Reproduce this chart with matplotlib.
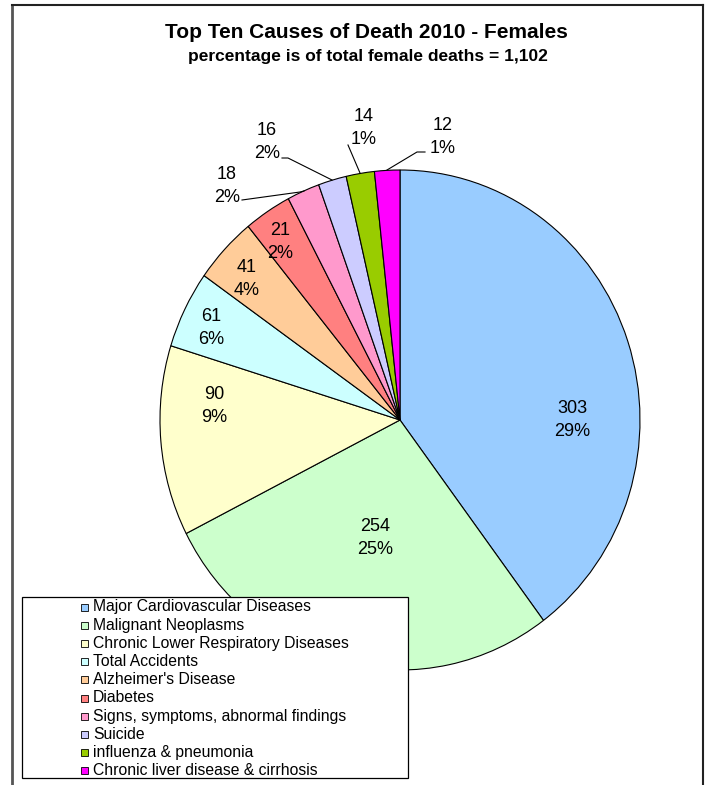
import matplotlib
matplotlib.use("Agg")
import matplotlib.pyplot as plt
from matplotlib.patches import Rectangle
from matplotlib.lines import Line2D

plt.rcParams['font.family'] = ['Liberation Sans', 'DejaVu Sans']

# ---- data ----
categories = ["Major Cardiovascular Diseases", "Malignant Neoplasms",
              "Chronic Lower Respiratory Diseases", "Total Accidents",
              "Alzheimer's Disease", "Diabetes",
              "Signs, symptoms, abnormal findings", "Suicide",
              "influenza & pneumonia", "Chronic liver disease & cirrhosis"]
deaths = [303, 254, 90, 61, 41, 21, 18, 16, 14, 12]
pct_labels = ["29%", "25%", "9%", "6%", "4%", "2%", "2%", "2%", "1%", "1%"]
# slice shares as drawn in the reference (percent of the circle)
slice_share = [39.8, 27.7, 12.3, 5.0, 4.3, 3.2, 2.2, 1.9, 1.9, 1.7]
colors = ["#99CCFF", "#CCFFCC", "#FFFFCC", "#CCFFFF", "#FFCC99",
          "#FF8080", "#FF99CC", "#CCCCFF", "#99CC00", "#FF00FF"]

W, H = 710, 785
fig = plt.figure(figsize=(W / 100, H / 100), dpi=100)

# pie axes: centre (400,420) px, rx=240, ry=250
cx, cy, rx, ry = 400, 420, 240, 250
pax = fig.add_axes([(cx - rx) / W, (H - (cy + ry)) / H, 2 * rx / W, 2 * ry / H])
wedges, _ = pax.pie(slice_share, colors=colors, startangle=90, counterclock=False,
                    radius=1.0, wedgeprops=dict(edgecolor="black", linewidth=0.8))
pax.set_aspect("auto")
pax.set_xlim(-1, 1)
pax.set_ylim(-1, 1)
pax.axis("off")

# overlay axes in pixel coordinates
ov = fig.add_axes([0, 0, 1, 1])
ov.set_xlim(0, W)
ov.set_ylim(H, 0)
ov.axis("off")
ov.set_zorder(3)
ov.patch.set_alpha(0)

# chart frame
ov.add_line(Line2D([12, 12], [5, H], color="#555555", lw=2.0))
ov.add_line(Line2D([12, 703], [5, 5], color="#222222", lw=1.5))
ov.add_line(Line2D([703, 703], [5, H], color="#222222", lw=1.5))

# titles
ov.text(366, 32, "Top Ten Causes of Death 2010 - Females", ha="center", va="center",
        fontsize=15, fontweight="bold")
ov.text(368, 57, "percentage is of total female deaths = 1,102", ha="center",
        va="center", fontsize=12.5, fontweight="bold")

# data labels (pixel positions of label centres)
label_pos = [(572, 420), (375, 538), (214, 406), (211, 328), (247, 279),
             (280, 242), (227, 186), (267, 142), (364, 128), (443, 137)]
for (x, y), n, p in zip(label_pos, deaths, pct_labels):
    ov.text(x, y, f"{n}\n{p}", ha="center", va="center", fontsize=13,
            linespacing=1.4)

# leader lines
leaders = [
    [(242, 200), (300, 192), (304, 191)],
    [(282, 158), (288, 158), (332, 180)],
    [(348, 145), (360, 173)],
    [(425, 152), (417, 152), (387, 170)],
]
for pts in leaders:
    xs, ys = zip(*pts)
    ov.add_line(Line2D(xs, ys, color="black", lw=0.8))

# legend box
ov.add_patch(Rectangle((22, 597), 386, 181, facecolor="white", edgecolor="black",
                       lw=0.9, zorder=4))
y0, step = 607, 18.2
for i, (c, lab) in enumerate(zip(colors, categories)):
    y = y0 + i * step
    ov.add_patch(Rectangle((80.5, y - 3.5), 7, 7, facecolor=c, edgecolor="black",
                           lw=0.6, zorder=5))
    ov.text(93, y, lab, ha="left", va="center", fontsize=11.3, zorder=5)

fig.savefig("out.png", dpi=100)
